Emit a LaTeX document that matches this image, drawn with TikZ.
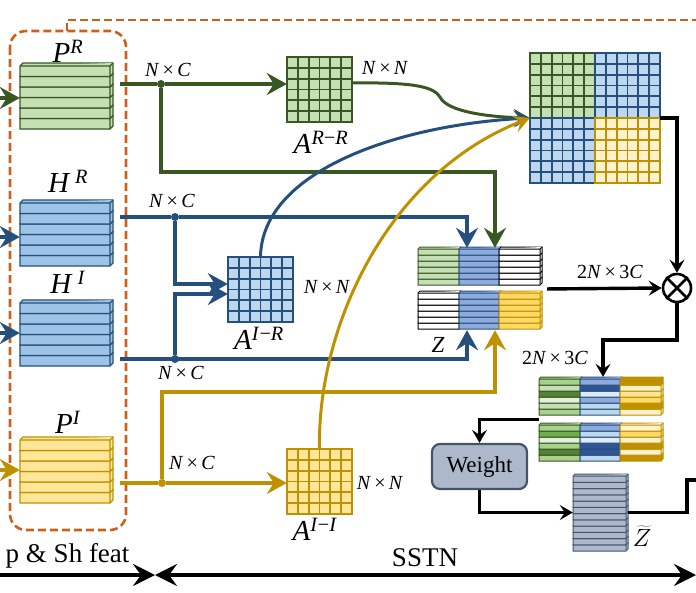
\documentclass[tikz,border=0pt]{standalone}
\usepackage{fontspec}
\setmainfont{Liberation Serif}
\usetikzlibrary{arrows.meta,calc}

\definecolor{gLine}{RGB}{56,87,35}
\definecolor{bLine}{RGB}{37,80,125}
\definecolor{yLine}{RGB}{191,144,0}
\definecolor{oDash}{RGB}{204,95,25}
\definecolor{wFill}{RGB}{173,185,202}
\definecolor{wLine}{RGB}{68,84,106}
\definecolor{gA}{RGB}{226,240,217}
\definecolor{gB}{RGB}{197,224,180}
\definecolor{gC}{RGB}{169,209,142}
\definecolor{gD}{RGB}{112,173,71}
\definecolor{gE}{RGB}{84,130,53}
\definecolor{bA}{RGB}{222,235,247}
\definecolor{bB}{RGB}{189,215,238}
\definecolor{bS}{RGB}{157,195,230}
\definecolor{bC}{RGB}{143,170,220}
\definecolor{bE}{RGB}{47,85,151}
\definecolor{yA}{RGB}{255,242,204}
\definecolor{yB}{RGB}{255,230,153}
\definecolor{yC}{RGB}{255,217,102}
\definecolor{yE}{RGB}{191,144,0}

% one slab: x, y, width, height, depth, style
\newcommand{\slab}[6]{%
  \filldraw[#6] (#1,#2) -- ++(#5,-#5) -- ++(#3,0) -- ++(0,#4) -- ++(-#5,#5) -- ++(-#3,0) -- cycle;
  \draw[#6] (#1,#2) -- ++(#3,0) -- ++(#5,-#5) (#1+#3,#2) -- ++(0,#4);
}
% 6 x 6 matrix: x, y, size, fill, line
\newcommand{\gridmat}[5]{%
  \fill[#4] (#1,#2) rectangle ++(#3,#3);
  \foreach \k in {1,...,5}{
    \draw[#5,line width=1.8pt] (#1+\k*#3/6,#2) -- ++(0,#3);
    \draw[#5,line width=1.8pt] (#1,#2+\k*#3/6) -- ++(#3,0);
  }
  \draw[#5,line width=1.8pt] (#1,#2) rectangle ++(#3,#3);
}
% feature stack: x, y, fill, line
\newcommand{\fstack}[4]{%
  \foreach \k in {5,4,...,0}{
    \slab{#1}{#2+\k*10.5}{90}{10.5}{3}{fill=#3,draw=#4,line width=1.4pt}
  }
}
\newcommand{\NxM}[2]{\textit{#1}\,×\,\textit{#2}}

\tikzset{
  blk/.style={inner sep=0pt,draw=none},
  dot/.style={circle,fill,inner sep=0pt,minimum size=8pt},
  garr/.style={draw=gLine,line width=3.6pt,-{Stealth[length=20pt,width=22pt,inset=7pt]}},
  barr/.style={draw=bLine,line width=3.6pt,-{Stealth[length=20pt,width=22pt,inset=7pt]}},
  yarr/.style={draw=yLine,line width=3.6pt,-{Stealth[length=20pt,width=22pt,inset=7pt]}},
  curv/.style={line width=3pt,-{Stealth[length=16pt,width=17pt,inset=6pt]}},
  karr/.style={line width=3.4pt,-{Stealth[length=13pt,width=15pt,inset=5pt]}},
  bigarr/.style={line width=4pt},
  dashbox/.style={draw=oDash,line width=2.6pt,dash pattern=on 8pt off 4pt},
  mlbl/.style={font=\fontsize{29}{32}\selectfont},
  nlbl/.style={font=\fontsize{20}{23}\selectfont},
  wbox/.style={draw=wLine,fill=wFill,line width=2.2pt,rounded corners=8pt,
    minimum width=95pt,minimum height=45pt,font=\fontsize{23}{26}\selectfont}
}

\begin{document}
\begin{tikzpicture}[x=1pt,y=-1pt]
\useasboundingbox (0,0) rectangle (696,592);

\draw[dashbox,rounded corners=16pt] (10,31) rectangle (126,530);
\draw[dashbox] (67,31) -- (67,20) -- (700,20);

\node[blk,minimum width=93pt,minimum height=66pt] (PR) at (66.5,96) {};
\node[blk,minimum width=93pt,minimum height=66pt] (HR) at (66.5,233.5) {};
\node[blk,minimum width=93pt,minimum height=66pt] (HI) at (66.5,333) {};
\node[blk,minimum width=93pt,minimum height=66pt] (PI) at (66.5,470) {};
\fstack{20}{66}{gB}{gLine}
\fstack{20}{203}{bS}{bLine}
\fstack{20}{303}{bS}{bLine}
\fstack{20}{440}{yB}{yLine}
\node[mlbl] at (68,51) {\textit{P}\textsuperscript{\textit{R}}};
\node[mlbl] at (68,181) {\textit{H}\,\textsuperscript{\textit{R}}};
\node[mlbl] at (68,282) {\textit{H}\,\textsuperscript{\textit{I}}};
\node[mlbl] at (68,422) {\textit{P}\textsuperscript{\textit{I}}};

\node[blk,minimum width=65pt,minimum height=65pt] (ARR) at (319.5,89.5) {};
\node[blk,minimum width=65pt,minimum height=65pt] (AIR) at (260.5,289.5) {};
\node[blk,minimum width=65pt,minimum height=65pt] (AII) at (319.5,481.5) {};
\node[blk,minimum width=130pt,minimum height=130pt] (Big) at (595,118) {};
\gridmat{287}{57}{65}{gB}{gLine}
\gridmat{228}{257}{65}{bB}{bLine}
\gridmat{287}{449}{65}{yB}{yLine}
\gridmat{530}{53}{65}{gB}{gLine}
\gridmat{595}{53}{65}{bB}{bLine}
\gridmat{530}{118}{65}{bB}{bLine}
\gridmat{595}{118}{65}{yA}{yLine}
\node[mlbl] at (321,142) {\textit{A}\textsuperscript{\textit{R}−\textit{R}}};
\node[mlbl] at (259,338) {\textit{A}\textsuperscript{\textit{I}−\textit{R}}};
\node[mlbl] at (315,529) {\textit{A}\textsuperscript{\textit{I}−\textit{I}}};
\node[nlbl] at (385,68) {\NxM{N}{N}};
\node[nlbl] at (327,287) {\NxM{N}{N}};
\node[nlbl] at (380,483) {\NxM{N}{N}};

\node[blk,minimum width=124pt,minimum height=82pt] (Z) at (480,289) {};
\foreach \k in {5,4,...,0}{
  \slab{418}{249+\k*6}{41}{6}{2}{fill=gB,draw=gLine,line width=1pt}
  \slab{459}{249+\k*6}{40}{6}{2}{fill=bC,draw=bLine,line width=1pt}
  \slab{499}{249+\k*6}{41}{6}{2}{fill=white,draw=black,line width=1pt}
  \slab{418}{293+\k*6}{41}{6}{2}{fill=white,draw=black,line width=1pt}
  \slab{459}{293+\k*6}{40}{6}{2}{fill=bC,draw=bLine,line width=1pt}
  \slab{499}{293+\k*6}{41}{6}{2}{fill=yC,draw=yLine,line width=1pt}
}
\node[font=\fontsize{23}{26}\selectfont] at (438,345) {\textit{Z}};

\node[blk,minimum width=124pt,minimum height=85pt] (S2) at (601,419.5) {};
\foreach \k/\ca/\cb/\cc in {5/gC/bB/yA,4/gB/bB/yE,3/gA/bC/yC,2/gE/bA/yB,1/gB/bE/yA,0/gC/bC/yE}{
  \slab{539}{379+\k*6}{41}{6}{2}{fill=\ca,draw=gLine,line width=1pt}
  \slab{580}{379+\k*6}{40}{6}{2}{fill=\cb,draw=bLine,line width=1pt}
  \slab{620}{379+\k*6}{41}{6}{2}{fill=\cc,draw=yLine,line width=1pt}
}
\foreach \k/\ca/\cb/\cc in {5/gC/bB/yE,4/gE/bE/yA,3/gC/bE/yE,2/gA/bA/yA,1/gD/bB/yC,0/gC/bC/yA}{
  \slab{539}{425+\k*6}{41}{6}{2}{fill=\ca,draw=gLine,line width=1pt}
  \slab{580}{425+\k*6}{40}{6}{2}{fill=\cb,draw=bLine,line width=1pt}
  \slab{620}{425+\k*6}{41}{6}{2}{fill=\cc,draw=yLine,line width=1pt}
}

\node[blk,minimum width=55pt,minimum height=77pt] (Zt) at (600.5,512.5) {};
\foreach \k in {11,10,...,0}{
  \slab{573}{476+\k*6.25}{53}{6.25}{2}{fill=wFill,draw=wLine,line width=1pt}
}
\node[font=\fontsize{23}{26}\selectfont] at (642,536) {$\widetilde{Z}$};

\node[wbox] (Wt) at (479.5,466.5) {Weight};
\node[circle,draw,line width=2.6pt,minimum size=28pt,inner sep=0pt] (mul) at (677,288) {};
\draw[line width=2.6pt] (mul.north west) -- (mul.south east) (mul.north east) -- (mul.south west);

% inputs
\coordinate (inPR) at (-5,98);
\coordinate (inHR) at (-5,237);
\coordinate (inHI) at (-5,333);
\coordinate (inPI) at (-5,470);
\draw[garr] (inPR) -- (PR.west |- inPR);
\draw[barr] (inHR) -- (HR.west |- inHR);
\draw[barr] (inHI) -- (HI.west |- inHI);
\draw[yarr] (inPI) -- (PI.west |- inPI);

% branches
\coordinate (oPR) at (120,84);
\coordinate (oHR) at (120,217);
\coordinate (oHI) at (120,359);
\coordinate (oPI) at (120,483);
\node[dot,gLine] (jPR) at (161,84) {};
\node[dot,bLine] (jHR) at (175,217) {};
\node[dot,bLine] (jHI) at (175,359) {};
\node[dot,yLine] (jPI) at (162,483) {};
\node[nlbl] at (168,70) {\NxM{N}{C}};
\node[nlbl] at (172,201) {\NxM{N}{C}};
\node[nlbl] at (181,373) {\NxM{N}{C}};
\node[nlbl] at (192,463) {\NxM{N}{C}};
\coordinate (gbend) at (495,172);
\coordinate (ybend) at (495,392);
\coordinate (cb) at (467,300);

\draw[draw=gLine,line width=3.6pt] (oPR) -- (jPR);
\draw[garr] (jPR) -- (ARR.west |- jPR);
\draw[garr] (jPR) |- (gbend) -- (gbend |- Z.north);
\draw[draw=bLine,line width=3.6pt] (oHR) -- (jHR);
\draw[barr] (jHR) -| (cb |- Z.north);
\draw[barr] (jHR) |- ($(AIR.west)+(0,-5.5)$);
\draw[barr] (oHI) -| (cb |- Z.south);
\draw[barr] (jHI) |- ($(AIR.west)+(0,4.5)$);
\draw[draw=yLine,line width=3.6pt] (oPI) -- (jPI);
\draw[yarr] (jPI) -- (AII.west |- jPI);
\draw[yarr] (jPI) |- (ybend) -- (ybend |- Z.south);

% attention maps
\coordinate (aRRo) at (352,83);
\draw[curv,draw=gLine] (aRRo) .. controls (420,82) and (434,88) .. (440,97)
  .. controls (447,112) and (490,117) .. (Big.west);
\draw[curv,draw=bLine] (AIR.north) .. controls (262,170) and (400,125) .. (Big.west);
\draw[curv,draw=yLine] (AII.north) .. controls (317,330) and (385,175) .. (Big.west);

% fusion
\draw[karr] (Big.east) -| (mul.north);
\draw[karr,shorten <=5pt] (Z.east) -- (mul.west);
\node[nlbl] at (610,272) {2\textit{N}\,×\,3\textit{C}};
\coordinate (kb) at (603,340);
\draw[karr] (mul.south) |- (kb) -- (kb |- S2.north);
\node[nlbl] at (555,358) {2\textit{N}\,×\,3\textit{C}};
\draw[karr] (S2.west) -| (Wt.north);
\draw[karr] (Wt.south) |- (Zt.west);
\coordinate (kr) at (687,480);
\coordinate (outR) at (700,480);
\draw[line width=3.4pt] (Zt.east) -| (kr) -- (outR);

% stages
\coordinate (bL) at (-5,575);
\coordinate (bM) at (155,575);
\coordinate (bR) at (696,575);
\draw[bigarr,-{Stealth[length=22pt,width=22pt,inset=8pt]}] (bL) -- (bM);
\draw[bigarr,{Stealth[length=22pt,width=22pt,inset=8pt]}-{Stealth[length=22pt,width=22pt,inset=8pt]}] (bM) -- (bR);
\node[anchor=base east,font=\fontsize{27}{30}\selectfont] at (133,562) {p \& Sh feat};
\node[anchor=base,font=\fontsize{27}{30}\selectfont] at (425,566) {SSTN};
\end{tikzpicture}
\end{document}
